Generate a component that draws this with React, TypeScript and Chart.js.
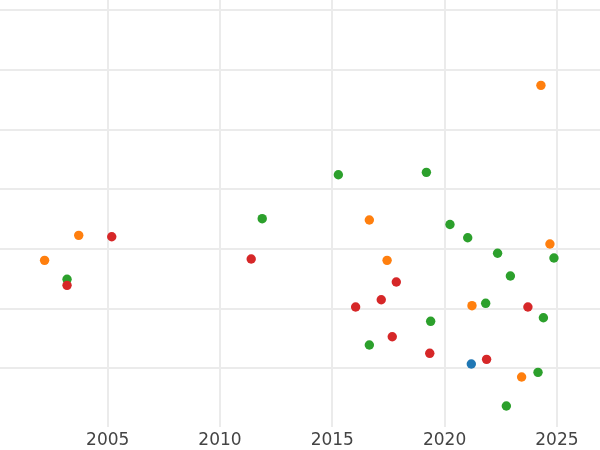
import React, { useEffect, useRef } from "react";
import { Chart, registerables } from "chart.js";

Chart.register(...registerables);

const xTicks = [2005, 2010, 2015, 2020, 2025];
const yGrid = [10, 20, 30, 40, 50, 60, 70];

const blueX = [2021.19];
const blueY = [10.73];

const orangeX = [2024.29, 2003.71, 2002.19, 2016.65, 2017.44, 2024.69, 2021.22, 2023.43];
const orangeY = [57.43, 32.29, 28.1, 34.86, 28.1, 30.84, 20.5, 8.55];

const greenX = [2011.88, 2015.27, 2019.19, 2020.24, 2021.03, 2022.36, 2024.87, 2022.93, 2003.19, 2021.83, 2019.38, 2024.4, 2016.65, 2024.16, 2022.75];
const greenY = [35.08, 42.45, 42.85, 34.1, 31.89, 29.28, 28.49, 25.47, 24.92, 20.9, 17.88, 18.48, 13.91, 9.33, 3.69];

const redX = [2005.18, 2011.39, 2003.19, 2017.85, 2017.18, 2016.04, 2023.71, 2017.67, 2019.34, 2021.87];
const redY = [32.06, 28.32, 23.91, 24.47, 21.5, 20.28, 20.28, 15.3, 12.52, 11.51];

const pts = (xs: number[], ys: number[]) => xs.map((x, i) => ({ x, y: ys[i] }));

export default function App() {
  const ref = useRef<HTMLCanvasElement | null>(null);
  useEffect(() => {
    if (!ref.current) return;
    const mk = (label: string, xs: number[], ys: number[], color: string) => ({
      label,
      data: pts(xs, ys),
      backgroundColor: color,
      borderWidth: 0,
      pointRadius: 4.7,
      pointHoverRadius: 4.7,
    });
    const chart = new Chart(ref.current, {
      type: "scatter",
      data: {
        datasets: [
          mk("red", redX, redY, "#d62728"),
          mk("green", greenX, greenY, "#2ca02c"),
          mk("orange", orangeX, orangeY, "#ff7f0e"),
          mk("blue", blueX, blueY, "#1f77b4"),
        ],
      },
      options: {
        responsive: false,
        animation: false,
        layout: { padding: 0, autoPadding: false },
        plugins: { legend: { display: false }, tooltip: { enabled: false } },
        scales: {
          x: {
            type: "linear",
            min: 2000.205,
            max: 2026.92,
            afterBuildTicks: (s: any) => {
              s.ticks = xTicks.map((v) => ({ value: v }));
            },
            afterFit: (s: any) => {
              s.height = 23;
            },
            grid: { color: "#ebebeb", lineWidth: 2, drawTicks: false },
            border: { display: false },
            ticks: {
              padding: 5.5,
              color: "#444444",
              font: { family: "DejaVu Sans", size: 17, lineHeight: 1 },
              callback: (v: any) => String(v),
            },
          },
          y: {
            type: "linear",
            min: 0.17,
            max: 71.73,
            afterBuildTicks: (s: any) => {
              s.ticks = yGrid.map((v) => ({ value: v }));
            },
            grid: { color: "#ebebeb", lineWidth: 2, drawTicks: false },
            border: { display: false },
            ticks: { display: false },
          },
        },
      },
    });
    return () => chart.destroy();
  }, []);
  return (
    <div style={{ position: "fixed", left: 0, top: 0, width: 600, height: 450, background: "#fff" }}>
      <canvas ref={ref} width={600} height={450} />
    </div>
  );
}
